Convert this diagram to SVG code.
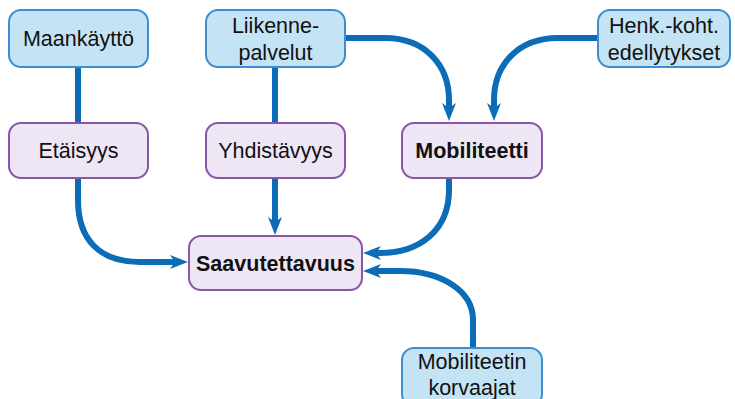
<svg xmlns="http://www.w3.org/2000/svg" width="735" height="399" viewBox="0 0 735 399">
<style>
.blue{fill:#c4e4f5;stroke:#3b8fd0;stroke-width:2}
.purple{fill:#efe6f5;stroke:#8a55a6;stroke-width:2}
text{font-family:"Liberation Sans",Arial,sans-serif;font-size:21.5px;fill:#111;text-anchor:middle}
.b{font-weight:bold}
.c{fill:none;stroke:#0b6db8;stroke-width:6}
</style>
<defs>
<marker id="ah" markerUnits="userSpaceOnUse" markerWidth="20" markerHeight="16" refX="8" refY="7" orient="auto">
<path d="M0,0 L18,7 L0,14 L5,7 z" fill="#0b6db8"/>
</marker>
</defs>
<rect width="735" height="399" fill="#fff"/>
<g id="connectors">
<path class="c" d="M78,66 V124"/>
<path class="c" d="M78,177 V200 C78,240 100,262 140,262 H178" marker-end="url(#ah)"/>
<path class="c" d="M275,66 V124"/>
<path class="c" d="M275,177 V225" marker-end="url(#ah)"/>
<path class="c" d="M345,38 H385 C425,38 449,65 449,100 V111" marker-end="url(#ah)"/>
<path class="c" d="M598,38 H558 C518,38 494,65 494,100 V111" marker-end="url(#ah)"/>
<path class="c" d="M449,177 V190 C449,230 420,253 380,253 H373" marker-end="url(#ah)"/>
<path class="c" d="M473,348 V320 C473,290 440,271 400,271 H373" marker-end="url(#ah)"/>
</g>
<g id="maankaytto"><rect class="blue" x="9" y="10" width="139" height="57" rx="12"/><text x="78.5" y="46">Maankäyttö</text></g>
<g id="liikennepalvelut"><rect class="blue" x="206" y="10" width="139" height="57" rx="12"/><text x="275.5" y="33">Liikenne-</text><text x="275.5" y="60">palvelut</text></g>
<g id="henkkoht"><rect class="blue" x="598" y="10" width="132" height="57" rx="12"/><text x="664" y="33">Henk.-koht.</text><text x="664" y="60">edellytykset</text></g>
<g id="etaisyys"><rect class="purple" x="9" y="123" width="139" height="55" rx="12"/><text x="78.5" y="158">Etäisyys</text></g>
<g id="yhdistavyys"><rect class="purple" x="206" y="123" width="139" height="55" rx="12"/><text x="275.5" y="158">Yhdistävyys</text></g>
<g id="mobiliteetti"><rect class="purple" x="402" y="123" width="140" height="55" rx="12"/><text class="b" x="472" y="158">Mobiliteetti</text></g>
<g id="saavutettavuus"><rect class="purple" x="189" y="236" width="173" height="54" rx="12"/><text class="b" x="275.5" y="271">Saavutettavuus</text></g>
<g id="korvaajat"><rect class="blue" x="402" y="348" width="140" height="58" rx="12"/><text x="472" y="369">Mobiliteetin</text><text x="472" y="395">korvaajat</text></g>
</svg>
